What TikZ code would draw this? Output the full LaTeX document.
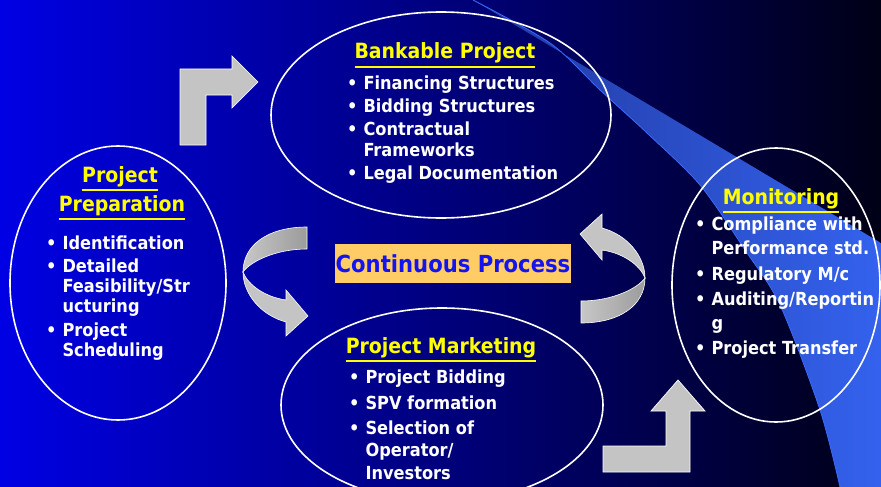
\documentclass[tikz,border=0pt]{standalone}
\usepackage{fontspec}
\setmainfont{DejaVuSansCondensed.ttf}[BoldFont=DejaVuSansCondensed-Bold.ttf]
\usetikzlibrary{positioning,calc,shapes.geometric}
\usepackage{xcolor}
\definecolor{bgblue}{RGB}{0,0,228}
\definecolor{bgmid}{RGB}{0,0,148}
\definecolor{bgdark}{RGB}{0,0,22}
\definecolor{swooshdark}{RGB}{32,56,158}
\definecolor{swooshlight}{RGB}{52,98,238}
\definecolor{swooshline}{RGB}{60,105,255}
\definecolor{arrowgray}{RGB}{196,196,196}
\definecolor{titleyellow}{RGB}{255,255,0}
\definecolor{procfill}{RGB}{255,204,102}
\definecolor{proctext}{RGB}{20,20,240}
\newcommand{\yline}[1]{\vtop{\hbox{#1}\kern2.5pt\hrule height 1.8pt}}
\newcommand{\bul}{\textbullet}
\tikzset{
bubble/.style={ellipse, draw=white, line width=1.6pt, inner sep=0pt},
heading/.style={
  text=titleyellow,
  font=\fontsize{21}{29}\selectfont\bfseries,
  inner sep=0pt,
  anchor=base
  },
bodytext/.style={text=white, inner sep=0pt, anchor=base west},
procbox/.style={
  fill=procfill, text=proctext,
  inner sep=0pt,
  minimum width=236pt, minimum height=39pt,
  font=\fontsize{23.5}{26}\selectfont\bfseries
  },
blockarrow/.style={fill=arrowgray, draw=white, line width=0.7pt},
backband/.style={left color=arrowgray!95!white, right color=gray!78, draw=white, line width=0.6pt},
frontband/.style={fill=arrowgray, draw=white, line width=0.6pt},
turnarrow/.pic={
  \path[backband] (-137,-48) .. controls (-176,-48) and (-201,-30) .. (-201,-3)
     .. controls (-194,-13) and (-169,-26) .. (-137,-26) -- cycle;
  \path[frontband] (-201,-3) .. controls (-201,18) and (-184,40) .. (-158,47)
     -- (-158,61) -- (-136,41) -- (-158,15) -- (-158,25)
     .. controls (-179,22) and (-196,10) .. (-201,-3) -- cycle;
  }
}
\begin{document}
\begin{tikzpicture}[x=1pt,y=-1pt]
    \useasboundingbox (0,0) rectangle (881,487);
    \clip (0,0) rectangle (881,487);
    \shade[left color=bgblue, middle color=bgmid, right color=bgdark] (0,0) rectangle (881,487);
    % swoosh
    \shade[left color=swooshdark, right color=swooshlight] (473,0) -- (881,243) -- (881,487) -- (840,487)
        -- plot[smooth] coordinates {(840,487) (820,410) (780,305) (745,250) (700,185) (647,133) (600,90) (550,43) (473,0)} -- cycle;
    \draw[swooshline, line width=0.8pt] plot[smooth] coordinates {(840,487) (820,410) (780,305) (745,250) (700,185) (647,133) (600,90) (550,43) (473,0)};

    \node[bubble, minimum width=340pt, minimum height=206pt] (bank) at (441,115) {};
    \node[bubble, minimum width=216pt, minimum height=274pt] (prep) at (118,283) {};
    \node[bubble, minimum width=322pt, minimum height=194pt] (market) at (442,405) {};
    \node[bubble, minimum width=208pt, minimum height=274pt] (monitor) at (776,285) {};

    \draw[blockarrow] (180,145) -- (180,69) -- (232,69) -- (232,56) -- (258,82) -- (232,108) -- (232,95) -- (206,95) -- (206,145) -- cycle;
    \draw[blockarrow] (603,472) -- (603,446) -- (666,446) -- (666,411) -- (651,411) -- (678,380) -- (705,411) -- (690,411) -- (690,472) -- cycle;
    \pic at (444,275) {turnarrow};
    \pic[rotate=180] at (444,275) {turnarrow};

    \node[procbox] (proc) at (453,263.5) {Continuous Process};

    \node[heading] (bank-title) at (445,59) {\yline{Bankable Project}};
    \node[bodytext, font=\fontsize{18}{20}\selectfont\bfseries] (bank-items) at (347,89)
    {\begin{tabular}[t]{@{}l@{\hspace{6pt}}l@{}}
        \bul & Financing Structures\\[3.5pt]
        \bul & Bidding Structures\\[3.5pt]
        \bul & Contractual\\
             & Frameworks\\[3.5pt]
        \bul & Legal Documentation
    \end{tabular}};

    \node[heading] (prep-title-a) at (120,182) {\yline{Project}};
    \node[heading] (prep-title-b) at (122,211) {\yline{Preparation}};
    \node[bodytext, font=\fontsize{18}{20}\selectfont\bfseries] (prep-items) at (46,249.5)
    {\begin{tabular}[t]{@{}l@{\hspace{6pt}}l@{}}
        \bul & Identification\\[3pt]
        \bul & Detailed\\
             & Feasibility/Str\\
             & ucturing\\[4pt]
        \bul & Project\\
             & Scheduling
    \end{tabular}};

    \node[heading] (market-title) at (441,353) {\yline{Project Marketing}};
    \node[bodytext, font=\fontsize{18}{22.5}\selectfont\bfseries] (market-items) at (349,383.5)
    {\begin{tabular}[t]{@{}l@{\hspace{6pt}}l@{}}
        \bul & Project Bidding\\[3pt]
        \bul & SPV formation\\[2.5pt]
        \bul & Selection of\\
             & Operator/\\
             & Investors
    \end{tabular}};

    \node[heading] (monitor-title) at (781,204) {\yline{Monitoring}};
    \node[bodytext, font=\fontsize{18}{24}\selectfont\bfseries] (monitor-items) at (695,230.5)
    {\begin{tabular}[t]{@{}l@{\hspace{6pt}}l@{}}
        \bul & Compliance with\\
             & Performance std.\\[1.5pt]
        \bul & Regulatory M/c\\[1pt]
        \bul & Auditing/Reportin\\
             & g\\[1pt]
        \bul & Project Transfer
    \end{tabular}};
\end{tikzpicture}
\end{document}
